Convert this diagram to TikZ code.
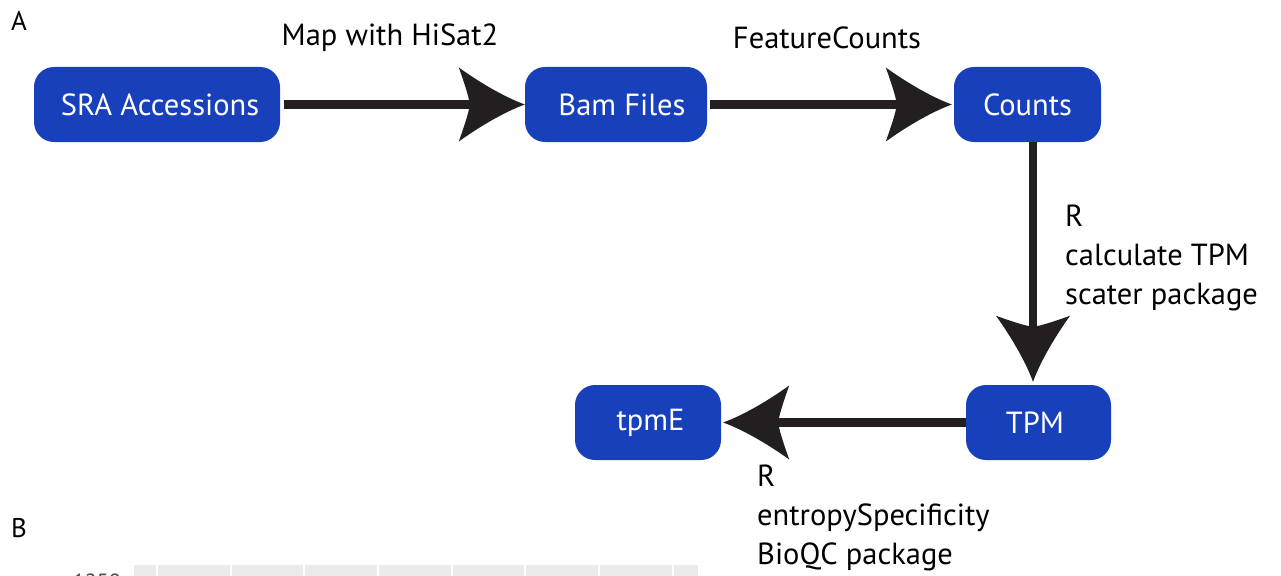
\documentclass[tikz,border=0pt]{standalone}
\usepackage{fontspec}
\setmainfont{PT Sans}
\usetikzlibrary{arrows.meta}
\definecolor{boxblue}{HTML}{1940BB}
\definecolor{inkblack}{HTML}{231F20}
\definecolor{panelgrey}{HTML}{EBEBEB}
\definecolor{axisgrey}{HTML}{4D4D4D}
\pgfdeclarearrow{
  name=BigHead,
  setup code={
    \pgfarrowssettipend{0pt}
    \pgfarrowssetlineend{-50pt}
    \pgfarrowsupperhullpoint{-66pt}{37pt}
    \pgfarrowshullpoint{0pt}{0pt}
  },
  drawing code={
    \pgfpathmoveto{\pgfpoint{0pt}{0pt}}
    \pgfpathcurveto{\pgfpoint{-22pt}{8pt}}{\pgfpoint{-48pt}{24pt}}{\pgfpoint{-66pt}{37pt}}
    \pgfpathcurveto{\pgfpoint{-60pt}{20pt}}{\pgfpoint{-56pt}{8pt}}{\pgfpoint{-55pt}{0pt}}
    \pgfpathcurveto{\pgfpoint{-56pt}{-8pt}}{\pgfpoint{-60pt}{-20pt}}{\pgfpoint{-66pt}{-37pt}}
    \pgfpathcurveto{\pgfpoint{-48pt}{-24pt}}{\pgfpoint{-22pt}{-8pt}}{\pgfpoint{0pt}{0pt}}
    \pgfpathclose
    \pgfusepathqfill
  }
}
\tikzset{
  stepbox/.style={fill=boxblue, rounded corners=20pt, text=white, minimum height=75pt,
    inner sep=0pt, font=\fontsize{30.5}{34}\selectfont},
  conn/.style={draw=inkblack, fill=inkblack, line width=8.5pt, -{BigHead}},
  lbl/.style={text=black, inner sep=0pt, font=\fontsize{30.5}{39}\selectfont},
  panel/.style={text=black, inner sep=0pt, font=\fontsize{27}{30}\selectfont}
}
\begin{document}
\begin{tikzpicture}[x=1pt,y=-1pt]
\useasboundingbox (0,0) rectangle (1281,575);
\clip (0,0) rectangle (1281,575);
\fill[white] (0,0) rectangle (1281,575);

\node[panel] (labA) at (19,21) {A};
\node[panel] (labB) at (19,528) {B};

\node[stepbox, minimum width=246pt] (sra) at (157,104.5) {\hspace*{6pt}SRA Accessions};
\node[stepbox, minimum width=182pt] (bam) at (616,104.5) {\hspace*{12pt}Bam Files};
\node[stepbox, minimum width=147pt] (counts) at (1027.5,104.5) {Counts};
\node[stepbox, minimum width=145pt] (tpm) at (1038.5,422.5) {TPM\hspace*{7pt}};
\node[stepbox, minimum width=146pt] (tpme) at (648,422.5) {\hspace*{5pt}tpmE};

\draw[conn, shorten <=4pt] (sra) -- (bam);
\draw[conn, shorten <=3pt, shorten >=2pt] (bam) -- (counts);
\draw[conn, shorten >=3pt] ([xshift=5.5pt]counts.south) -- ([xshift=-5.5pt]tpm.north);
\draw[conn, shorten >=2pt] (tpm.west) -- (tpme.east);

\node[lbl] (l1) at (390,38) {Map with HiSat2};
\node[lbl] (l2) at (827,38) {FeatureCounts};
\node[lbl, anchor=north west, align=left] (l3) at (1065,205) {R\\calculate TPM\\scater package};
\node[lbl, anchor=north west, align=left] (l4) at (757,465) {R\\entropySpecificity\\BioQC package};

% partial plot panel
\fill[panelgrey] (134,565) rectangle (698,580);
\foreach \gx in {157,231,304,378,452,525,599,673}
  \fill[white] (\gx-1.2,565) rectangle (\gx+1.2,580);
\node[text=axisgrey, anchor=east, inner sep=0pt, font=\fontsize{22}{24}\selectfont] (tick) at (121,582) {1250};
\draw[axisgrey, line width=1.5pt] (123,577) -- (130,577);
\end{tikzpicture}
\end{document}
